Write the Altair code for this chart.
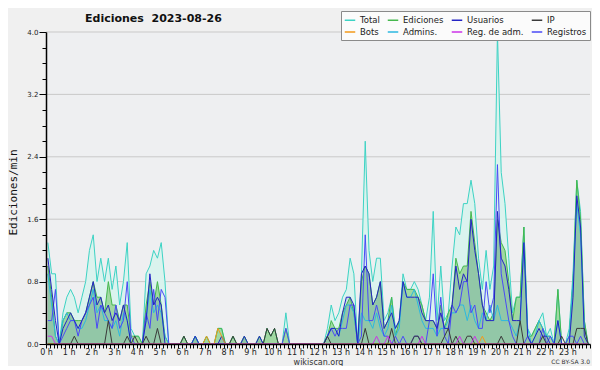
import altair as alt
import pandas as pd

# 10-minute bins (144 per day), values in edits per minute
total = [
    1.3, 0.9, 0.9, 0.0, 0.4, 0.6,
    0.7, 0.6, 0.4, 0.6, 0.8, 1.2,
    1.4, 0.8, 1.1, 0.8, 1.1, 0.7,
    1.0, 0.5, 0.8, 1.3, 0.2, 0.1,
    0.1, 0.0, 0.9, 1.0, 1.2, 1.1,
    1.3, 0.8, 0.0, 0.0, 0.0, 0.0,
    0.1, 0.0, 0.0, 0.1, 0.0, 0.0,
    0.1, 0.0, 0.0, 0.2, 0.2, 0.0,
    0.0, 0.1, 0.0, 0.0, 0.1, 0.0,
    0.0, 0.0, 0.1, 0.0, 0.2, 0.1,
    0.2, 0.0, 0.0, 0.4, 0.0, 0.0,
    0.0, 0.0, 0.0, 0.0, 0.0, 0.0,
    0.0, 0.0, 0.2, 0.5, 0.3, 0.4,
    0.6, 0.7, 1.1, 0.9, 0.0, 0.9,
    2.6, 1.2, 0.8, 1.1, 1.1, 0.3,
    0.4, 0.6, 0.2, 0.3, 0.9, 0.7,
    0.7, 0.8, 0.7, 0.5, 0.3, 0.6,
    1.7, 0.3, 1.0, 0.3, 0.4, 1.0,
    1.5, 1.4, 1.8, 1.8, 2.1, 1.8,
    1.1, 0.7, 1.2, 0.7, 1.0, 4.0,
    2.2, 1.8, 1.1, 0.4, 0.6, 0.6,
    1.5, 0.2, 0.1, 0.2, 0.3, 0.4,
    0.1, 0.2, 0.0, 0.7, 0.0, 0.0,
    0.2, 0.9, 2.1, 1.7, 0.3, 0.0,
]
ediciones = [
    1.0, 0.6, 0.1, 0.0, 0.3, 0.4,
    0.4, 0.3, 0.3, 0.3, 0.4, 0.6,
    0.8, 0.6, 0.6, 0.4, 0.8, 0.5,
    0.5, 0.3, 0.5, 0.5, 0.1, 0.1,
    0.1, 0.0, 0.5, 0.8, 0.5, 0.8,
    0.5, 0.1, 0.0, 0.0, 0.0, 0.0,
    0.1, 0.0, 0.0, 0.1, 0.0, 0.0,
    0.1, 0.0, 0.0, 0.2, 0.2, 0.0,
    0.0, 0.1, 0.0, 0.0, 0.1, 0.0,
    0.0, 0.0, 0.1, 0.0, 0.2, 0.1,
    0.2, 0.0, 0.0, 0.2, 0.0, 0.0,
    0.0, 0.0, 0.0, 0.0, 0.0, 0.0,
    0.0, 0.0, 0.1, 0.3, 0.2, 0.2,
    0.4, 0.5, 0.6, 0.4, 0.0, 0.8,
    1.0, 0.9, 0.5, 0.6, 0.8, 0.2,
    0.3, 0.6, 0.1, 0.3, 0.8, 0.7,
    0.7, 0.7, 0.6, 0.5, 0.3, 0.3,
    0.3, 0.2, 0.5, 0.2, 0.4, 0.5,
    1.1, 0.9, 1.0, 1.0, 1.7, 1.3,
    0.9, 0.5, 0.4, 0.3, 0.4, 1.6,
    1.3, 1.2, 0.8, 0.3, 0.6, 0.6,
    1.5, 0.1, 0.1, 0.2, 0.3, 0.2,
    0.1, 0.1, 0.0, 0.7, 0.0, 0.0,
    0.1, 0.8, 2.1, 1.6, 0.3, 0.0,
]
usuarios = [
    1.1, 0.7, 0.3, 0.0, 0.2, 0.3,
    0.4, 0.3, 0.2, 0.3, 0.4, 0.6,
    0.8, 0.5, 0.6, 0.4, 0.5, 0.3,
    0.4, 0.3, 0.5, 0.3, 0.0, 0.0,
    0.0, 0.0, 0.3, 0.9, 0.5, 0.6,
    0.5, 0.0, 0.0, 0.0, 0.0, 0.0,
    0.0, 0.0, 0.0, 0.1, 0.0, 0.0,
    0.0, 0.0, 0.0, 0.0, 0.1, 0.0,
    0.0, 0.0, 0.0, 0.0, 0.1, 0.0,
    0.0, 0.0, 0.1, 0.0, 0.0, 0.0,
    0.0, 0.0, 0.0, 0.0, 0.0, 0.0,
    0.0, 0.0, 0.0, 0.0, 0.0, 0.0,
    0.0, 0.0, 0.1, 0.2, 0.2, 0.1,
    0.4, 0.6, 0.6, 0.5, 0.0, 0.9,
    1.0, 0.9, 0.5, 0.6, 0.8, 0.2,
    0.3, 0.4, 0.2, 0.3, 0.8, 0.6,
    0.6, 0.6, 0.6, 0.4, 0.3, 0.3,
    0.3, 0.2, 0.4, 0.2, 0.2, 0.5,
    1.0, 0.7, 0.9, 0.8, 1.6, 1.2,
    0.9, 0.5, 0.3, 0.3, 0.3, 1.7,
    1.1, 1.0, 0.7, 0.3, 0.3, 0.3,
    1.3, 0.1, 0.0, 0.1, 0.2, 0.1,
    0.1, 0.0, 0.0, 0.3, 0.0, 0.0,
    0.0, 0.6, 1.9, 1.5, 0.1, 0.0,
]
ip = [
    0.0, 0.0, 0.0, 0.0, 0.0, 0.0,
    0.0, 0.1, 0.0, 0.0, 0.0, 0.0,
    0.0, 0.0, 0.0, 0.0, 0.3, 0.0,
    0.0, 0.0, 0.0, 0.1, 0.0, 0.1,
    0.0, 0.0, 0.1, 0.0, 0.0, 0.2,
    0.0, 0.0, 0.0, 0.0, 0.0, 0.0,
    0.1, 0.0, 0.0, 0.0, 0.0, 0.0,
    0.0, 0.0, 0.0, 0.0, 0.0, 0.0,
    0.0, 0.1, 0.0, 0.0, 0.0, 0.0,
    0.0, 0.0, 0.0, 0.0, 0.2, 0.1,
    0.2, 0.0, 0.0, 0.0, 0.0, 0.0,
    0.0, 0.0, 0.0, 0.0, 0.0, 0.0,
    0.0, 0.0, 0.1, 0.0, 0.0, 0.0,
    0.0, 0.0, 0.0, 0.0, 0.0, 0.0,
    0.2, 0.0, 0.0, 0.0, 0.0, 0.0,
    0.0, 0.2, 0.0, 0.0, 0.0, 0.0,
    0.0, 0.1, 0.1, 0.0, 0.0, 0.0,
    0.0, 0.0, 0.0, 0.1, 0.2, 0.0,
    0.1, 0.0, 0.0, 0.1, 0.1, 0.0,
    0.0, 0.0, 0.0, 0.0, 0.0, 0.0,
    0.1, 0.0, 0.0, 0.0, 0.0, 0.3,
    0.0, 0.0, 0.0, 0.0, 0.0, 0.1,
    0.0, 0.0, 0.0, 0.0, 0.1, 0.0,
    0.0, 0.0, 0.2, 0.2, 0.2, 0.0,
]
bots = [0.0] * 42 + [0.1, 0.0, 0.0, 0.2, 0.1] + [0.0] * 68 + [0.1] + [0.0] * 28
reg_adm = ([0.1, 0.1] + [0.0] * 85 + [0.1, 0.0, 0.0, 0.1] + [0.0] * 8 + [0.1]
           + [0.0] * 9 + [0.1, 0.0, 0.0, 0.0, 0.1] + [0.0] * 30)
admins = [
    0.9, 0.5, 0.1, 0.0, 0.3, 0.4,
    0.3, 0.3, 0.2, 0.2, 0.3, 0.5,
    0.7, 0.4, 0.5, 0.3, 0.3, 0.2,
    0.3, 0.1, 0.4, 0.3, 0.0, 0.0,
    0.0, 0.0, 0.3, 0.7, 0.4, 0.5,
    0.4, 0.1, 0.0, 0.0, 0.0, 0.0,
    0.0, 0.0, 0.0, 0.1, 0.0, 0.0,
    0.0, 0.0, 0.0, 0.0, 0.0, 0.0,
    0.0, 0.0, 0.0, 0.0, 0.0, 0.0,
    0.0, 0.0, 0.0, 0.0, 0.0, 0.0,
    0.0, 0.0, 0.0, 0.0, 0.0, 0.0,
    0.0, 0.0, 0.0, 0.0, 0.0, 0.0,
    0.0, 0.0, 0.1, 0.2, 0.2, 0.1,
    0.3, 0.5, 0.5, 0.4, 0.0, 0.4,
    0.3, 0.3, 0.2, 0.4, 0.2, 0.1,
    0.2, 0.5, 0.1, 0.2, 0.8, 0.6,
    0.6, 0.7, 0.5, 0.3, 0.2, 0.2,
    0.2, 0.1, 0.2, 0.2, 0.3, 0.4,
    0.4, 0.5, 0.5, 0.3, 0.5, 0.3,
    0.2, 0.4, 0.3, 0.5, 0.3, 0.5,
    0.3, 0.3, 0.3, 0.2, 0.1, 0.3,
    1.3, 0.2, 0.0, 0.1, 0.3, 0.2,
    0.1, 0.1, 0.0, 0.3, 0.0, 0.0,
    0.1, 0.8, 1.8, 1.4, 0.2, 0.0,
]
registros = [
    0.3, 0.3, 0.7, 0.0, 0.1, 0.2,
    0.3, 0.3, 0.1, 0.3, 0.4, 0.5,
    0.6, 0.2, 0.5, 0.4, 0.3, 0.2,
    0.5, 0.2, 0.3, 0.8, 0.1, 0.0,
    0.0, 0.0, 0.4, 0.2, 0.7, 0.3,
    0.7, 0.6, 0.0, 0.0, 0.0, 0.0,
    0.0, 0.0, 0.0, 0.0, 0.0, 0.0,
    0.0, 0.0, 0.0, 0.0, 0.0, 0.0,
    0.0, 0.0, 0.0, 0.0, 0.0, 0.0,
    0.0, 0.0, 0.0, 0.0, 0.0, 0.0,
    0.0, 0.0, 0.0, 0.2, 0.0, 0.0,
    0.0, 0.0, 0.0, 0.0, 0.0, 0.0,
    0.0, 0.0, 0.1, 0.2, 0.1, 0.2,
    0.2, 0.2, 0.5, 0.5, 0.0, 0.1,
    1.4, 0.3, 0.3, 0.5, 0.3, 0.1,
    0.1, 0.0, 0.1, 0.0, 0.1, 0.0,
    0.0, 0.1, 0.1, 0.0, 0.0, 0.3,
    0.9, 0.1, 0.6, 0.1, 0.0, 0.5,
    0.4, 0.5, 0.8, 0.8, 0.4, 0.5,
    0.2, 0.2, 0.8, 0.4, 0.6, 2.3,
    0.9, 0.6, 0.3, 0.1, 0.0, 0.0,
    0.0, 0.1, 0.0, 0.0, 0.0, 0.2,
    0.0, 0.1, 0.0, 0.0, 0.0, 0.0,
    0.1, 0.1, 0.0, 0.1, 0.0, 0.0,
]

series_names = ["Total", "Ediciones", "Usuarios", "IP", "Bots", "Admins.", "Reg. de adm.", "Registros"]
series_colors = ["#3dd3c4", "#46b84e", "#2424c4", "#3a3a3a", "#f39a1a", "#2cb9e0", "#cc33e8", "#4a4af6"]
series_values = [total, ediciones, usuarios, ip, bots, admins, reg_adm, registros]
grid_values = [0.8, 1.6, 2.4, 3.2, 4.0]

rows = []
for name, vals in zip(series_names, series_values):
    for i, v in enumerate(vals):
        rows.append({"t": (i + 0.5) / 6, "serie": name, "v": v})
df = pd.DataFrame(rows)

FONT = "DejaVu Sans"
MAJOR = "round(datum.value * 10) % 8 == 0"

x_enc = alt.X(
    "t:Q",
    scale=alt.Scale(domain=[0, 24], nice=False, zero=False),
    axis=alt.Axis(
        values=[k / 6 for k in range(145)],
        labelExpr="(datum.value % 1 == 0 && datum.value < 24) ? datum.value + ' h' : ''",
        labelOverlap=False, labelFlush=False,
        tickSize=4, tickColor="black", tickWidth=1,
        domainColor="black", domainWidth=1.5,
        labelFont=FONT, labelFontSize=8, labelColor="#222", labelPadding=0,
        grid=False, zindex=1,
        title="wikiscan.org", titleFont=FONT, titleFontSize=8, titleFontWeight="normal",
        titleColor="#333", titleBaseline="alphabetic", titleY=20,
    ),
)
y_enc = alt.Y(
    "v:Q",
    scale=alt.Scale(domain=[0, 4], nice=False),
    axis=alt.Axis(
        values=[round(k * 0.2, 1) for k in range(21)],
        labelExpr="(" + MAJOR + ") ? format(datum.value, '.1f') : ''",
        labelOverlap=False, labelFlush=False,
        tickSize={"condition": {"test": MAJOR, "value": 7}, "value": 4},
        tickColor="black", tickWidth=1,
        domainColor="black", domainWidth=1.5,
        labelFont=FONT, labelFontSize=7, labelColor="#222", labelPadding=1,
        grid=False, zindex=1,
        title="Ediciones/min", titleFont="DejaVu Sans Mono", titleFontSize=11,
        titleFontWeight="normal", titleColor="#111", titleX=-30, titleY=160,
        titleAngle=270, titleBaseline="alphabetic", titleAlign="center",
    ),
)

color_scale = alt.Scale(domain=series_names, range=series_colors)
legend = alt.Legend(
    orient="none", legendX=295, legendY=-21, columns=4, direction="horizontal",
    title=None, symbolType="stroke", symbolSize=110, symbolStrokeWidth=1.5,
    labelFont=FONT, labelFontSize=8.5, labelColor="#222", labelLimit=0,
    labelOffset=4, columnPadding=4, rowPadding=1, padding=3,
    fillColor="#fbfbfb", strokeColor="#8a8a8a",
)

base = alt.Chart(df)

grid = alt.Chart(pd.DataFrame({"v": grid_values})).mark_rule(
    color="#c9c9c9", strokeWidth=1
).encode(y=y_enc)

area_total = base.transform_filter(alt.datum.serie == "Total").mark_area(
    color="#daf3ee", opacity=1
).encode(x=x_enc, y=y_enc)
area_ed = base.transform_filter(alt.datum.serie == "Ediciones").mark_area(
    color="#a0d8a2", opacity=1
).encode(x=x_enc, y=y_enc)
area_us = base.transform_filter(alt.datum.serie == "Usuarios").mark_area(
    color="#4060c8", opacity=0.14
).encode(x=x_enc, y=y_enc)

line_order = ["Total", "Ediciones", "Admins.", "Registros", "Usuarios", "IP", "Bots", "Reg. de adm."]
lines = []
for name in line_order:
    lines.append(
        base.transform_filter(alt.datum.serie == name).mark_line(strokeWidth=1).encode(
            x=x_enc, y=y_enc,
            color=alt.Color("serie:N", scale=color_scale, legend=legend),
        )
    )

title_txt = alt.Chart(pd.DataFrame({"s": ["Ediciones\u00a0 2023-08-26"]})).mark_text(
    align="left", baseline="alphabetic", font=FONT, fontSize=11, fontWeight="bold", color="#111"
).encode(x=alt.value(39), y=alt.value(-10), text="s:N")

cc_txt = alt.Chart(pd.DataFrame({"s": ["CC BY-SA 3.0"]})).mark_text(
    align="right", baseline="alphabetic", font=FONT, fontSize=6, color="#333"
).encode(x=alt.value(544), y=alt.value(332), text="s:N")

chart = alt.layer(
    grid, area_total, area_ed, area_us, *lines, title_txt, cc_txt
).properties(
    width=544, height=312,
    autosize=alt.AutoSizeParams(type="none"),
    padding={"left": 38, "top": 24, "right": 2, "bottom": 22},
).configure(background="#f0f0f0").configure_view(fill="#eeeff1", strokeWidth=0)

chart.save("out.html", embed_options={"renderer": "svg", "actions": False})
